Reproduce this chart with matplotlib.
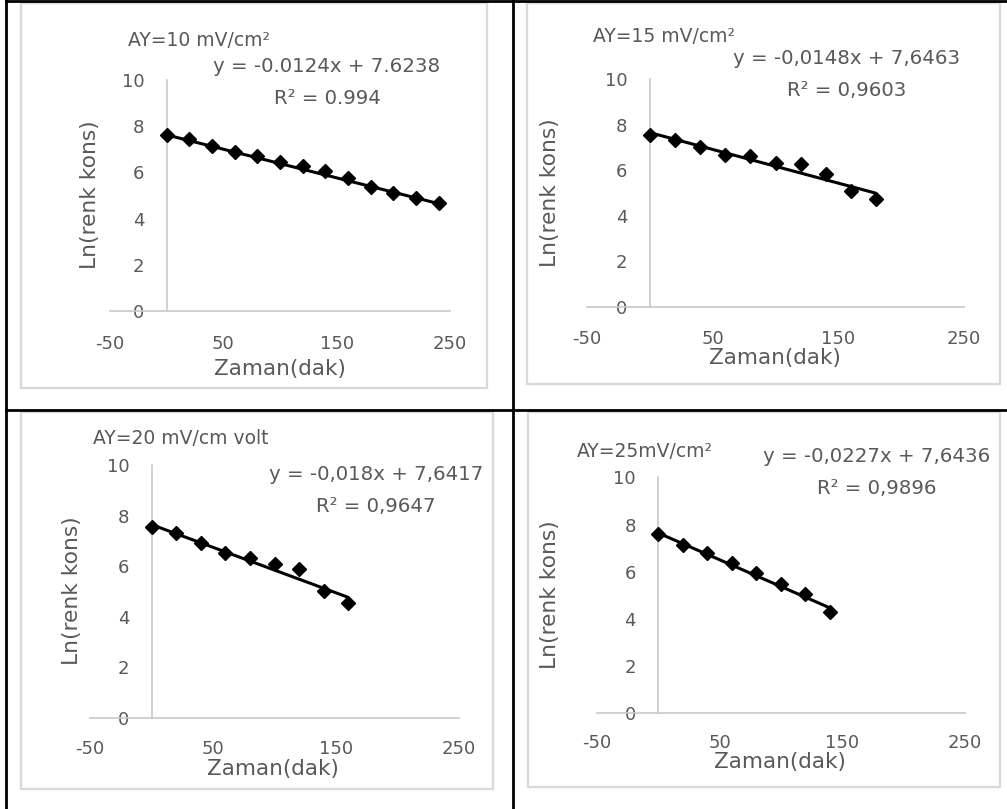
import matplotlib
matplotlib.use("Agg")
import matplotlib.pyplot as plt
from matplotlib.patches import Rectangle
from matplotlib.lines import Line2D

plt.rcParams['font.family'] = ['DejaVu Sans']

W, H = 1007, 809
TEXT = '#595959'
AXIS_GREY = '#c8c8c8'
FRAME_GREY = '#d9d9d9'

# ---- data -------------------------------------------------------------
titles = ['AY=10 mV/cm²', 'AY=15 mV/cm²', 'AY=20 mV/cm volt', 'AY=25mV/cm²']

time_10 = [0, 20, 40, 60, 80, 100, 120, 140, 160, 180, 200, 220, 240]
ln_10 = [7.62, 7.43, 7.16, 6.90, 6.72, 6.43, 6.29, 6.05, 5.74, 5.38, 5.12, 4.91, 4.66]

time_15 = [0, 20, 40, 60, 80, 100, 120, 140, 160, 180]
ln_15 = [7.56, 7.34, 7.02, 6.65, 6.61, 6.29, 6.26, 5.81, 5.07, 4.72]

time_20 = [0, 20, 40, 60, 80, 100, 120, 140, 160]
ln_20 = [7.55, 7.29, 6.92, 6.50, 6.30, 6.10, 5.88, 5.01, 4.52]

time_25 = [0, 20, 40, 60, 80, 100, 120, 140]
ln_25 = [7.58, 7.13, 6.78, 6.36, 5.93, 5.47, 5.04, 4.28]

slopes = [-0.0124, -0.0148, -0.018, -0.0227]
intercepts = [7.6238, 7.6463, 7.6417, 7.6436]
eq_labels = ['y = -0.0124x + 7.6238', 'y = -0,0148x + 7,6463',
             'y = -0,018x + 7,6417', 'y = -0,0227x + 7,6436']
r2_labels = ['R² = 0.994', 'R² = 0,9603', 'R² = 0,9647', 'R² = 0,9896']

x_ticks = [-50, 50, 150, 250]
y_ticks = [0, 2, 4, 6, 8, 10]
x_label = 'Zaman(dak)'
y_label = 'Ln(renk kons)'

series = [(time_10, ln_10), (time_15, ln_15), (time_20, ln_20), (time_25, ln_25)]

# ---- layout (pixels) --------------------------------------------------
# chart frame: left, top, right, bottom
frames = [(21, 3, 487, 388), (527, 3, 1000, 384),
          (21, 412, 493, 789), (528, 412, 1000, 787)]
# plot area: px of x=-50, px of x=250, px of y=0, px of y=10
plots = [(110, 450, 311, 80), (587, 964, 306.7, 79),
         (90, 459, 717.7, 465), (596.7, 965, 713.3, 477.3)]
title_pos = [(128, 40), (593, 37), (93, 438), (577, 452)]
eq_pos = [(327, 67), (847, 58), (376, 474), (877, 457)]
r2_pos = [(327, 99), (847, 90), (376, 507), (877, 488)]
ylab_pos = [(90, 195), (550, 193), (72, 591), (550, 595)]
xlab_pos = [(280, 369), (775, 358), (273, 769), (780, 762)]
xtick_pad = [32, 31, 29.5, 28.5]


def fx(x):
    return x / W


def fy(y):
    return 1 - y / H


fig = plt.figure(figsize=(W / 100, H / 100), dpi=100)
fig.patch.set_facecolor('white')

for i in range(4):
    l, t, r, b = frames[i]
    fig.add_artist(Rectangle((fx(l), fy(b)), fx(r) - fx(l), fy(t) - fy(b),
                             transform=fig.transFigure, facecolor='white',
                             edgecolor=FRAME_GREY, linewidth=1.6, zorder=0))

    x0, x1, y0, y1 = plots[i]
    ax = fig.add_axes([fx(x0), fy(y0), fx(x1) - fx(x0), fy(y1) - fy(y0)])
    ax.patch.set_alpha(0)
    ax.set_xlim(-50, 250)
    ax.set_ylim(0, 10)
    for s in ('top', 'right'):
        ax.spines[s].set_visible(False)
    ax.spines['left'].set_position(('data', 0))
    for s in ('left', 'bottom'):
        ax.spines[s].set_color(AXIS_GREY)
        ax.spines[s].set_linewidth(1.2)
    ax.set_xticks(x_ticks)
    ax.set_yticks(y_ticks)
    ax.set_xticklabels([str(v) for v in x_ticks])
    ax.set_yticklabels([str(v) for v in y_ticks])
    ax.tick_params(axis='both', length=0, labelsize=13, labelcolor=TEXT)
    ax.tick_params(axis='y', pad=16)
    ax.tick_params(axis='x', pad=xtick_pad[i] * 0.72 - 5.5)

    tx, ty = series[i]
    xs = [0, tx[-1]]
    ys = [slopes[i] * v + intercepts[i] for v in xs]
    ax.plot(xs, ys, color='black', linewidth=2.2, solid_capstyle='butt', zorder=3)
    ax.plot(tx, ty, linestyle='none', marker='D', markersize=7,
            color='black', clip_on=False, zorder=4)

    fig.text(fx(title_pos[i][0]), fy(title_pos[i][1]), titles[i],
             ha='left', va='center', fontsize=13.5, color=TEXT)
    fig.text(fx(eq_pos[i][0]), fy(eq_pos[i][1]), eq_labels[i],
             ha='center', va='center', fontsize=14.2, color=TEXT)
    fig.text(fx(r2_pos[i][0]), fy(r2_pos[i][1]), r2_labels[i],
             ha='center', va='center', fontsize=14.2, color=TEXT)
    fig.text(fx(ylab_pos[i][0]), fy(ylab_pos[i][1]), y_label, rotation=90,
             ha='center', va='center', fontsize=15.7, color=TEXT)
    fig.text(fx(xlab_pos[i][0]), fy(xlab_pos[i][1]), x_label,
             ha='center', va='center', fontsize=15.5, color=TEXT)

# table rules
rules = [((6, 6), (0, 809)), ((513, 513), (0, 809)),
         ((6, 1007), (1, 1)), ((6, 1007), (410, 410))]
for (xa, xb), (ya, yb) in rules:
    fig.add_artist(Line2D([fx(xa), fx(xb)], [fy(ya), fy(yb)],
                          transform=fig.transFigure, color='black',
                          linewidth=2.0, zorder=5))

fig.savefig('out.png', dpi=100)
